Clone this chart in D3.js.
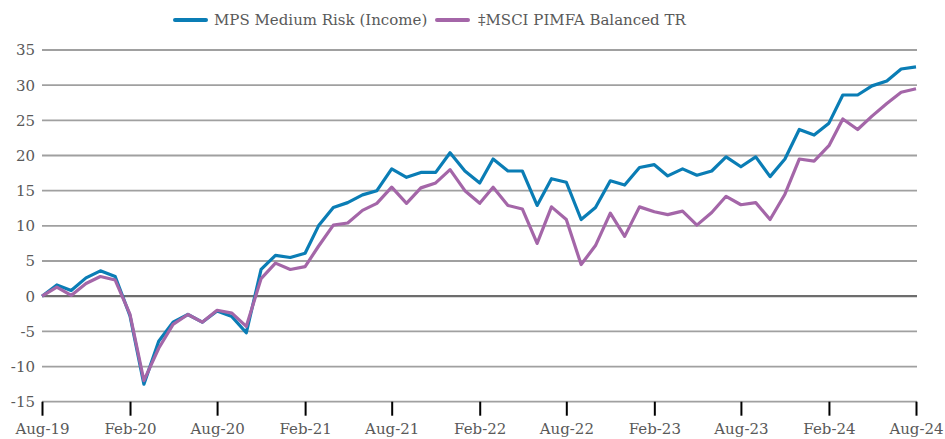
<!DOCTYPE html>
<html>
<head>
<meta charset="utf-8">
<script src="https://cdn.jsdelivr.net/npm/d3@7"></script>
<style>
  html, body { margin: 0; padding: 0; background: #fff; }
  svg { display: block; }
  text { font-family: "DejaVu Serif", serif; fill: #595959; }
</style>
</head>
<body>
<svg id="chart" width="945" height="439"></svg>
<script>
const seriesNames = ["MPS Medium Risk (Income)", "\u2021MSCI PIMFA Balanced TR"];
const startMonth = "2019-08";
const mpsValues = [0, 1.6, 0.8, 2.6, 3.6, 2.8, -2.8, -12.5, -6.4, -3.7, -2.6, -3.7, -2.1, -2.9, -5.2,
  3.8, 5.8, 5.5, 6.1, 10.0, 12.6, 13.3, 14.4, 15.0, 18.1, 16.9, 17.6, 17.6, 20.4, 17.8, 16.1,
  19.5, 17.8, 17.8, 12.9, 16.7, 16.2, 10.9, 12.6, 16.4, 15.8, 18.3, 18.7, 17.1, 18.1, 17.2,
  17.8, 19.8, 18.4, 19.8, 17.0, 19.5, 23.7, 22.9, 24.6, 28.6, 28.6, 29.9, 30.6, 32.3, 32.6];
const msciValues = [0, 1.3, 0.1, 1.8, 2.8, 2.3, -2.6, -12.0, -7.4, -4.0, -2.6, -3.7, -2.0, -2.4, -4.3,
  2.5, 4.7, 3.8, 4.2, 7.1, 10.1, 10.4, 12.2, 13.2, 15.5, 13.2, 15.4, 16.1, 18.0, 15.0, 13.2,
  15.5, 12.9, 12.4, 7.5, 12.7, 10.9, 4.5, 7.2, 11.8, 8.5, 12.7, 12.0, 11.6, 12.1, 10.1,
  11.9, 14.2, 13.0, 13.3, 10.9, 14.5, 19.5, 19.2, 21.4, 25.2, 23.7, 25.6, 27.4, 29.0, 29.5];
const yTicks = [-15, -10, -5, 0, 5, 10, 15, 20, 25, 30, 35];
const xTickLabels = ["Aug-19", "Feb-20", "Aug-20", "Feb-21", "Aug-21", "Feb-22", "Aug-22", "Feb-23", "Aug-23", "Feb-24", "Aug-24"];
const colors = ["#0a7db5", "#a466a8"];

(function () {
const svg = d3.select("#chart");
const pLeft = 42, pRight = 916, pTop = 50, pBottom = 401.7;

const parse = d3.timeParse("%Y-%m");
const start = parse(startMonth);
const dates = mpsValues.map((_, i) => d3.timeMonth.offset(start, i));
const x = d3.scaleTime().domain([dates[0], dates[dates.length - 1]]).range([pLeft, pRight]);
const y = d3.scaleLinear().domain([-15, 35]).range([pBottom, pTop]);

// gridlines
svg.append("g").selectAll("line").data(yTicks).join("line")
  .attr("x1", pLeft).attr("x2", pRight + 1)
  .attr("y1", d => y(d)).attr("y2", d => y(d))
  .attr("stroke", d => d === 0 ? "#6d6d6d" : "#a0a0a0")
  .attr("stroke-width", d => d === 0 ? 2.2 : 1.8);

// y labels
svg.append("g").selectAll("text").data(yTicks).join("text")
  .attr("x", 35).attr("y", d => y(d)).attr("dy", "0.36em")
  .attr("text-anchor", "end").attr("font-size", 15).text(d => d);

// x axis ticks
const tickDates = xTickLabels.map(s => d3.timeParse("%b-%y")(s));
const fmt = d3.timeFormat("%b-%y");
const xAxis = d3.axisBottom(x).tickValues(tickDates).tickFormat(fmt).tickSize(14).tickPadding(8);
const gx = svg.append("g").attr("transform", `translate(0,${pBottom})`).call(xAxis);
gx.select(".domain").remove();
gx.selectAll(".tick line").attr("stroke", "#000").attr("stroke-width", 2);
gx.selectAll(".tick text").attr("font-size", 15).attr("fill", "#595959")
  .attr("font-family", "DejaVu Serif, serif");

// lines
const line = d3.line().x((d, i) => x(dates[i])).y(d => y(d));
[mpsValues, msciValues].forEach((vals, k) => {
  svg.append("path").datum(vals)
    .attr("d", line).attr("fill", "none")
    .attr("stroke", colors[k]).attr("stroke-width", 3.2)
    .attr("stroke-linejoin", "round");
});

// legend
const legendItems = [{x: 175, tx: 214}, {x: 437, tx: 478}];
legendItems.forEach((it, k) => {
  svg.append("line").attr("x1", it.x).attr("x2", it.x + 31).attr("y1", 20).attr("y2", 20)
    .attr("stroke", colors[k]).attr("stroke-width", 4).attr("stroke-linecap", "round");
  svg.append("text").attr("x", it.tx).attr("y", 20).attr("dy", "0.36em")
    .attr("font-size", 15).text(seriesNames[k]);
});
})();
</script>
</body>
</html>
